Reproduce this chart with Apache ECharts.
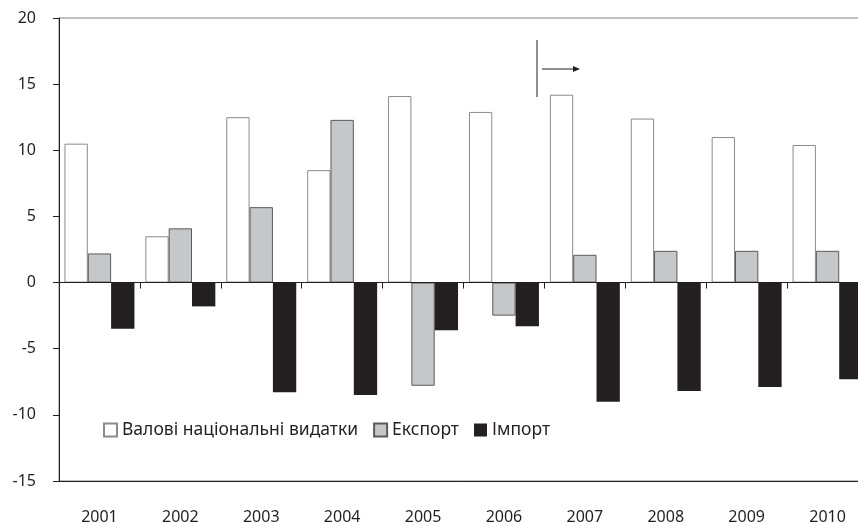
<!DOCTYPE html>
<html>
<head>
<meta charset="utf-8">
<script src="https://cdn.jsdelivr.net/npm/echarts@6/dist/echarts.min.js"></script>
<style>html,body{margin:0;padding:0;background:#fff;}#c{width:858px;height:523px;}</style>
</head>
<body>
<div id="c"></div>
<script>
const years = ['2001','2002','2003','2004','2005','2006','2007','2008','2009','2010'];
const gne = [10.5, 3.5, 12.5, 8.5, 14.1, 12.9, 14.2, 12.4, 11.0, 10.4];
const exportVals = [2.2, 4.1, 5.7, 12.3, -7.8, -2.5, 2.1, 2.4, 2.4, 2.4];
const importVals = [-3.5, -1.8, -8.3, -8.5, -3.6, -3.3, -9.0, -8.2, -7.9, -7.3];
const seriesNames = ['Валові національні видатки', 'Експорт', 'Імпорт'];
const yTicks = { min: -15, max: 20, interval: 5 };

const FONT = 'Noto Sans';
const chart = echarts.init(document.getElementById('c'), null, { renderer: 'canvas' });
const option = {
  animation: false,
  backgroundColor: '#fff',
  textStyle: { fontFamily: FONT },
  grid: { left: 59, top: 18, width: 809, bottom: 42, outerBoundsMode: 'none', containLabel: false,
    show: true, borderColor: '#808080', borderWidth: 1, backgroundColor: 'transparent' },
  legend: {
    left: 98, top: 416, itemWidth: 13, itemHeight: 13, itemGap: 15,
    icon: 'rect',
    textStyle: { fontFamily: FONT, fontSize: 17.5, color: '#231f20' },
    data: seriesNames
  },
  xAxis: [
    {
      type: 'category', data: years, position: 'bottom',
      axisLine: { onZero: true, lineStyle: { color: '#231f20', width: 1 } },
      axisTick: { show: true, length: 6, lineStyle: { color: '#231f20' } },
      axisLabel: { show: false }, z: 5
    },
    {
      type: 'category', data: years, position: 'bottom',
      axisLine: { onZero: false, lineStyle: { color: '#231f20', width: 1 } },
      axisTick: { show: false },
      axisLabel: { show: true, margin: 28, fontFamily: FONT, fontSize: 16, color: '#231f20' }
    }
  ],
  yAxis: {
    type: 'value', min: yTicks.min, max: yTicks.max, interval: yTicks.interval,
    axisLine: { show: true, lineStyle: { color: '#231f20' } },
    axisTick: { show: true, length: 6, lineStyle: { color: '#231f20' } },
    axisLabel: { margin: 23, fontFamily: FONT, fontSize: 16, color: '#231f20' },
    splitLine: { show: false }
  },
  series: [
    { name: seriesNames[0], type: 'bar', data: gne, barGap: '0%', barCategoryGap: '13.5%',
      itemStyle: { color: '#ffffff', borderColor: '#8a8a8a', borderWidth: 1 } },
    { name: seriesNames[1], type: 'bar', data: exportVals,
      itemStyle: { color: '#c6c7c8', borderColor: '#5a5a5a', borderWidth: 1 } },
    { name: seriesNames[2], type: 'bar', data: importVals,
      itemStyle: { color: '#231f20', borderColor: '#231f20', borderWidth: 0 } }
  ],
  graphic: [
    { type: 'line', shape: { x1: 537, y1: 40, x2: 537, y2: 97 }, style: { stroke: '#231f20', lineWidth: 1 } },
    { type: 'line', shape: { x1: 542, y1: 69, x2: 574, y2: 69 }, style: { stroke: '#231f20', lineWidth: 1 } },
    { type: 'polygon', shape: { points: [[573, 66], [580, 69], [573, 72]] }, style: { fill: '#231f20' } }
  ]
};
chart.setOption(option);
</script>
</body>
</html>
